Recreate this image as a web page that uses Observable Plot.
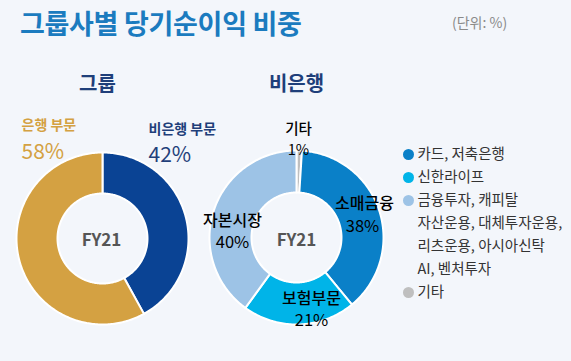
<!DOCTYPE html>
<html><head><meta charset="utf-8">
<script src="https://cdn.jsdelivr.net/npm/d3@7"></script>
<script src="https://cdn.jsdelivr.net/npm/@observablehq/plot@0.6"></script>
<style>
html,body{margin:0;padding:0;background:#f3f6fb;}
#wrap{position:relative;width:571px;height:361px;overflow:hidden;font-family:"Noto Sans CJK KR","Noto Sans",sans-serif;}
#title{position:absolute;left:20px;top:3px;font-size:27px;font-weight:700;color:#1b7bbf;letter-spacing:-0.3px;}
#unit{position:absolute;left:452px;top:12px;font-size:14px;color:#8a8a8a;}
#chart{position:absolute;left:0;top:0;}
</style></head>
<body><div id="wrap"><div id="chart"></div><div id="title">그룹사별 당기순이익 비중</div><div id="unit">(단위: %)</div></div>
<script>
// Data
const groupCats = ["비은행 부문", "은행 부문"];
const groupVals = [42, 58];
const groupColors = ["#0a4394", "#d4a142"];
const nonbankCats = ["기타", "소매금융", "보험부문", "자본시장"];
const nonbankVals = [1, 38, 21, 40];
const nonbankColors = ["#bfbfbf", "#0a80c8", "#00b4e8", "#9dc3e6"];
const legendLabels = ["카드, 저축은행", "신한라이프", "금융투자, 캐피탈", "자산운용, 대체투자운용,", "리츠운용, 아시아신탁", "AI, 벤처투자", "기타"];
const legendColors = ["#0a80c8", "#00b4e8", "#9dc3e6", null, null, null, "#bfbfbf"];
const centerLabel = "FY21";

// layout
const W = 571, H = 361;
const donuts = [
  {cx: 102, cy: 238, R: 86, r: 45, cats: groupCats, vals: groupVals, colors: groupColors},
  {cx: 296, cy: 237, R: 87, r: 45, cats: nonbankCats, vals: nonbankVals, colors: nonbankColors}
];

const polys = [];
donuts.forEach((d, di) => {
  const arcs = d3.pie().sort(null).value(v => v)(d.vals);
  arcs.forEach((a, i) => {
    const n = Math.max(4, Math.ceil((a.endAngle - a.startAngle) * 60));
    const pts = [];
    for (let k = 0; k <= n; k++) {
      const t = a.startAngle + (a.endAngle - a.startAngle) * k / n;
      pts.push([d.cx + d.R * Math.sin(t), d.cy - d.R * Math.cos(t)]);
    }
    for (let k = n; k >= 0; k--) {
      const t = a.startAngle + (a.endAngle - a.startAngle) * k / n;
      pts.push([d.cx + d.r * Math.sin(t), d.cy - d.r * Math.cos(t)]);
    }
    pts.push(pts[0]);
    pts.forEach(p => polys.push({x: p[0], y: p[1], key: di + "-" + i, color: d.colors[i]}));
  });
});

const font = '"Noto Sans CJK KR","Noto Sans",sans-serif';
const texts = [
  {x: 97, y: 84, t: "그룹", fill: "#1f3f7a", size: 20, w: "bold", a: "middle"},
  {x: 296, y: 84, t: "비은행", fill: "#1f3f7a", size: 20, w: "bold", a: "middle"},
  {x: 21, y: 125, t: groupCats[1], fill: "#d4a142", size: 14, w: "bold", a: "start"},
  {x: 21, y: 152, t: groupVals[1] + "%", fill: "#d4a142", size: 21, w: "normal", a: "start"},
  {x: 148, y: 129, t: groupCats[0], fill: "#1f3f7a", size: 14, w: "bold", a: "start"},
  {x: 148, y: 155, t: groupVals[0] + "%", fill: "#1f3f7a", size: 21, w: "normal", a: "start"},
  {x: 101, y: 240, t: centerLabel, fill: "#555555", size: 17, w: "bold", a: "middle"},
  {x: 296, y: 240, t: centerLabel, fill: "#555555", size: 17, w: "bold", a: "middle"},
  {x: 298, y: 129, t: nonbankCats[0], fill: "#000", size: 14.5, w: "500", a: "middle"},
  {x: 298, y: 150, t: nonbankVals[0] + "%", fill: "#000", size: 14.5, w: "normal", a: "middle"},
  {x: 364, y: 203, t: nonbankCats[1], fill: "#000", size: 16, w: "500", a: "middle"},
  {x: 362, y: 226, t: nonbankVals[1] + "%", fill: "#000", size: 16.5, w: "normal", a: "middle"},
  {x: 311, y: 298, t: nonbankCats[2], fill: "#000", size: 16, w: "500", a: "middle"},
  {x: 311, y: 320, t: nonbankVals[2] + "%", fill: "#000", size: 16.5, w: "normal", a: "middle"},
  {x: 232, y: 220, t: nonbankCats[3], fill: "#000", size: 16, w: "500", a: "middle"},
  {x: 232, y: 242, t: nonbankVals[3] + "%", fill: "#000", size: 16.5, w: "normal", a: "middle"}
];

const legend = legendLabels.map((l, i) => ({x: 417, y: 154 + i * 23, t: l, c: legendColors[i]}));

const textMarks = [];
for (const w of ["bold", "500", "normal"]) for (const a of ["start", "middle"]) {
  const sub = texts.filter(d => d.w === w && d.a === a);
  if (sub.length) textMarks.push(Plot.text(sub, {x: "x", y: "y", text: "t", fill: "fill", fontSize: "size", textAnchor: a, fontWeight: w}));
}

const chart = Plot.plot({
  width: W, height: H,
  margin: 0,
  style: {background: "transparent", fontFamily: font, overflow: "visible"},
  x: {domain: [0, W], range: [0, W], axis: null},
  y: {domain: [0, H], range: [0, H], axis: null},
  marks: [
    Plot.line(polys, {x: "x", y: "y", z: "key", fill: "color", stroke: "white", strokeWidth: 2, curve: "linear"}),
    ...textMarks,
    Plot.dot(legend.filter(d => d.c), {x: d => d.x - 9, y: "y", r: 5.5, fill: "c"}),
    Plot.text(legend, {x: "x", y: "y", text: "t", textAnchor: "start", fill: "#333", fontSize: 14.5})
  ]
});
document.getElementById("chart").appendChild(chart);
</script>
</body></html>
